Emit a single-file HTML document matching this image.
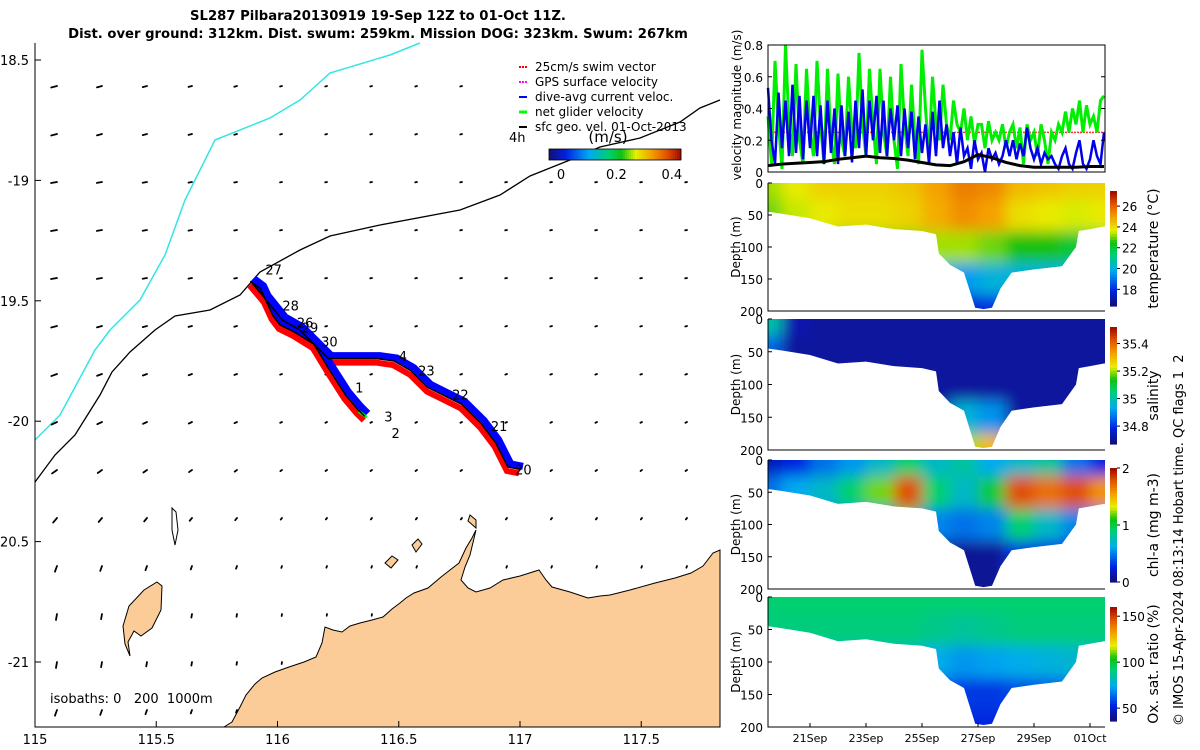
<!DOCTYPE html>
<html><head><meta charset="utf-8">
<style>
html,body{margin:0;padding:0;background:#fff;}
svg{display:block;font-family:"DejaVu Sans","Liberation Sans",sans-serif;}
</style></head>
<body>
<svg id="fig" width="1200" height="750" viewBox="0 0 1200 750">
<defs>
<filter id="blur" x="-20%" y="-20%" width="140%" height="140%"><feGaussianBlur stdDeviation="7"/></filter>
</defs>
<text x="378" y="20" text-anchor="middle" font-size="13.2" font-weight="bold">SL287 Pilbara20130919 19-Sep 12Z to 01-Oct 11Z.</text>
<text x="378" y="38" text-anchor="middle" font-size="13.2" font-weight="bold">Dist. over ground: 312km. Dist. swum: 259km. Mission DOG: 323km. Swum: 267km</text>
<g id="map"></g>
<g id="right"></g>
<text transform="translate(1183,726) rotate(-90)" font-size="13">© IMOS 15-Apr-2024 08:13:14 Hobart time. QC flags 1&#160;&#160;2</text>
</svg>
<script>
// ---------- DATA ----------
const velBlue=[0.53,0.2,0.05,0.5,0.15,0.45,0.1,0.55,0.12,0.48,0.08,0.45,0.15,0.48,0.1,0.42,0.05,0.45,0.12,0.4,0.05,0.42,0.1,0.38,0.06,0.45,0.15,0.52,
0.1,0.45,0.2,0.48,0.12,0.45,0.1,0.4,0.2,0.42,0.1,0.4,0.15,0.38,0.08,0.35,0.12,0.3,0.05,0.38,0.1,0.45,0.15,0.3,
0.1,0.25,0.05,0.28,0.1,0.15,0.02,0.2,0.08,0.12,0.0,0.15,0.08,0.12,0.05,0.1,
0.2,0.1,0.2,0.08,0.18,0.1,0.28,0.15,0.08,0.15,0.05,0.12,0.08,0.1,0.05,0.02,0.1,0.15,0.05,0.02,0.12,0.2,0.05,0.02,0.08,0.2,0.1,0.05,0.25];
const velGreen=[0.35,0.05,0.7,0.3,0.02,0.8,0.3,0.1,0.68,0.2,0.05,0.65,0.25,0.1,0.7,0.3,0.05,0.65,0.2,0.05,0.62,0.2,0.1,0.6,0.25,0.15,0.75,0.3,
0.1,0.65,0.3,0.05,0.65,0.25,0.1,0.6,0.2,0.02,0.68,0.3,0.1,0.55,0.2,0.05,0.77,0.4,0.1,0.6,0.3,0.2,0.55,0.3,
0.2,0.45,0.3,0.25,0.4,0.2,0.35,0.18,0.3,0.3,0.15,0.32,0.2,0.25,0.2,0.3,
0.15,0.25,0.3,0.15,0.28,0.05,0.3,0.2,0.25,0.1,0.3,0.2,0.05,0.25,0.2,0.3,0.25,0.38,0.25,0.4,0.3,0.45,0.25,0.42,0.3,0.35,0.25,0.45,0.48];
const velStartDay=19.5, velStep=0.125;
const velBlack=[0.04,0.05,0.055,0.06,0.065,0.08,0.09,0.1,0.09,0.085,0.075,0.06,0.045,0.04,0.065,0.11,0.09,0.06,0.04,0.03,0.03,0.03,0.03,0.035,0.035];
const blackStep=0.5;
const swimRef=0.25;
const velTicks=[0,0.2,0.4,0.6,0.8];
const dateTicks=[21,23,25,27,29,31];
const dateLabels=["21Sep","23Sep","25Sep","27Sep","29Sep","01Oct"];
const depthTicks=[0,50,100,150,200];
const botDays=[19.5,20,21,22,23,24,25,25.5,25.6,26,26.5,26.9,27.2,27.5,27.8,28.2,29,30,30.5,30.6,31,31.5];
const botDepth=[45,48,55,68,65,72,75,80,110,128,140,195,197,195,165,140,135,130,100,75,72,68];
const gridDays=[19.5,20.5,21.5,22.5,23.5,24.5,25.5,26.5,27.5,28.5,29.5,30.5,31.5];
const gridDepths=[0,50,100,150,200];
const tempGrid=[
[23.3,23.8,24.2,24.2,24.2,24.4,25,25.6,25.4,24.6,24.4,24.2,24.2],
[23,23.5,23.8,24,24,24.2,24.8,25.3,25,24,23.8,23.6,23.8],
[22,22,23,23,23,23,23.3,23.3,23,22.5,22.5,22,22],
[20,20,20,20,20,20,20,19.5,20,20,20,20,20],
[18,18,18,18,18,18,18,17.5,18,18,18,18,18]];
const salGrid=[
[35.0,34.72,34.7,34.7,34.7,34.7,34.7,34.7,34.7,34.7,34.7,34.7,34.7],
[34.85,34.7,34.7,34.7,34.7,34.7,34.7,34.7,34.7,34.7,34.7,34.7,34.7],
[34.7,34.7,34.7,34.7,34.7,34.7,34.7,34.7,34.7,34.7,34.7,34.7,34.7],
[34.7,34.7,34.7,34.7,34.7,34.7,34.7,34.95,34.9,34.7,34.7,34.7,34.7],
[34.7,34.7,34.7,34.7,34.7,34.7,34.7,35.2,35.3,34.7,34.7,34.7,34.7]];
const chlGrid=[
[0.15,0.25,0.45,0.55,0.7,0.9,0.7,0.8,0.6,0.7,0.8,0.45,0.25],
[0.45,0.6,0.7,0.9,1.2,1.8,0.9,0.7,1.0,1.8,1.7,1.8,1.6],
[0.5,0.5,0.5,0.5,0.5,0.9,0.5,0.45,0.5,0.9,0.7,0.5,0.5],
[0.2,0.2,0.2,0.2,0.2,0.15,0.05,0.05,0.05,0.3,0.3,0.3,0.3],
[0.05,0.05,0.05,0.05,0.05,0.05,0.05,0.05,0.05,0.05,0.05,0.05,0.05]];
const oxGrid=[
[92,92,92,92,92,92,92,92,92,92,92,92,92],
[90,90,90,90,90,90,88,86,88,90,90,90,90],
[82,82,82,82,82,80,74,70,72,74,76,78,80],
[62,62,62,62,62,62,58,55,55,58,60,62,62],
[52,52,52,52,52,52,52,52,52,52,52,52,52]];
const trackLon=[116.36,116.33,116.28,116.21,116.15,116.07,116.01,115.98,115.93,115.89,115.94,116.02,116.09,116.21,116.33,116.41,116.48,116.55,116.62,116.68,116.76,116.84,116.90,116.95,117.0];
const trackLat=[-19.98,-19.95,-19.89,-19.78,-19.68,-19.63,-19.60,-19.56,-19.45,-19.42,-19.48,-19.58,-19.62,-19.74,-19.74,-19.74,-19.75,-19.79,-19.86,-19.89,-19.93,-20.01,-20.09,-20.19,-20.20];
const dayLabels=["27","28","26","29","30","1","3","2","4","23","22","21","20"];
const dayLabLon=[115.95,116.02,116.08,116.10,116.18,116.32,116.44,116.47,116.50,116.58,116.72,116.88,116.98];
const dayLabLat=[-19.37,-19.52,-19.59,-19.61,-19.67,-19.86,-19.98,-20.05,-19.73,-19.79,-19.89,-20.02,-20.20];

// ---------- helpers ----------
const NS="http://www.w3.org/2000/svg";
function mk(parent,tag,attrs){const e=document.createElementNS(NS,tag);for(const k in attrs)e.setAttribute(k,attrs[k]);parent.appendChild(e);return e;}
const cmStops=[[0,[16,16,128]],[0.12,[0,32,224]],[0.3,[0,170,240]],[0.45,[0,208,112]],[0.55,[16,192,16]],[0.66,[232,240,0]],[0.78,[245,160,0]],[0.9,[224,80,0]],[1,[160,16,0]]];
function jet(t){t=Math.max(0,Math.min(1,t));
 for(let i=1;i<cmStops.length;i++){if(t<=cmStops[i][0]){const [a,ca]=cmStops[i-1],[b,cb]=cmStops[i];const f=(t-a)/(b-a);
  return `rgb(${Math.round(ca[0]+(cb[0]-ca[0])*f)},${Math.round(ca[1]+(cb[1]-ca[1])*f)},${Math.round(ca[2]+(cb[2]-ca[2])*f)})`;}}
 return 'rgb(160,16,0)';}
const map=document.getElementById('map'), right=document.getElementById('right');

// ---------- MAP ----------
const lonX=lon=>35+(lon-115)*242.5;
const latY=lat=>60+(-18.5-lat)*240.8;
const landPts=[[224,727],[232,722],[240,707],[246,695],[255,684],[262,678],[275,672],[289,667],[304,662],[316,657],[322,643],[325,627],[333,630],[342,632],[350,626],[360,623],[372,620],[383,617],[392,609],[400,603],[406,598],[414,593],[428,588],[441,577],[450,570],[459,563],[466,548],[472,538],[476,530],[470,555],[465,567],[461,580],[468,588],[476,592],[490,588],[503,580],[520,576],[539,570],[546,580],[552,587],[570,592],[588,598],[600,596],[610,595],[630,590],[655,583],[675,578],[691,573],[703,566],[713,553],[720,550],[720,727]];
const islandPts=[[157,582],[162,586],[161,610],[152,628],[141,636],[134,631],[128,642],[130,656],[125,644],[123,626],[129,606],[144,590]];
function inPoly(x,y,p){let c=false;for(let i=0,j=p.length-1;i<p.length;j=i++){const [xi,yi]=p[i],[xj,yj]=p[j];if(((yi>y)!=(yj>y))&&(x<(xj-xi)*(y-yi)/(yj-yi)+xi))c=!c;}return c;}
let e;
e=mk(map,'polygon',{points:landPts.map(p=>p.join(',')).join(' '),fill:'#fbcb98',stroke:'#000','stroke-width':1});


e=mk(map,'polygon',{points:islandPts.map(p=>p.join(',')).join(' '),fill:'#fbcb98',stroke:'#000','stroke-width':1});


e=mk(map,'polygon',{points:'470,515 476,520 476,528 468,521',fill:'#fbcb98',stroke:'#000','stroke-width':1});


e=mk(map,'polygon',{points:'412,545 418,539 422,544 416,552',fill:'#fbcb98',stroke:'#000','stroke-width':1});


e=mk(map,'polygon',{points:'385,563 392,556 398,560 391,568',fill:'#fbcb98',stroke:'#000','stroke-width':1});


e=mk(map,'polygon',{points:'172,508 176,512 178,530 175,545 172,530',fill:'none',stroke:'#000','stroke-width':1});


e=mk(map,'polyline',{points:'35,440 60,415 95,350 110,330 140,300 165,255 185,200 215,140 270,118 300,100 330,73 390,55 420,43',fill:'none',stroke:'#33e5e5','stroke-width':1.5});


e=mk(map,'polyline',{points:'35,482 55,455 75,435 100,395 112,372 130,352 155,330 175,316 210,310 240,295 260,272 300,250 330,236 380,225 460,210 500,195 530,176 570,160 600,147 640,138 680,122 700,108 720,100',fill:'none',stroke:'#000','stroke-width':1.3});


const rowAng=[195,195,190,190,190,195,200,205,215,230,250,260,260,250];
for(let r=0;r<14;r++){for(let c=0;c<15;c++){
 const x=57+45*c,y=86+48*r;
 if(inPoly(x,y,landPts)||inPoly(x,y,islandPts))continue;
 if(x>500&&y<135&&x<690)continue;
 const mag=Math.max(1.8,6-c*0.8);
 const a=rowAng[r]*Math.PI/180;
 const dx=Math.cos(a)*mag,dy=-Math.sin(a)*mag;
 const q=mk(map,'line',{x1:x,y1:y,x2:x+dx,y2:y+dy,stroke:'#000','stroke-width':1.8,'stroke-linecap':'round'});
 
 
}}
const tp=trackLon.map((l,i)=>[lonX(l),latY(trackLat[i])]);
e=mk(map,'polyline',{points:tp.map(p=>(p[0]-1)+','+(p[1]+4)).join(' '),fill:'none',stroke:'#ff0000','stroke-width':6,'stroke-linejoin':'miter'});


e=mk(map,'polyline',{points:tp.map(p=>(p[0]+3)+','+(p[1]-3)).join(' '),fill:'none',stroke:'#0000ff','stroke-width':7,'stroke-linejoin':'miter'});


e=mk(map,'line',{x1:tp[0][0]-6,y1:tp[0][1]-5,x2:tp[0][0]+2,y2:tp[0][1]+1,stroke:'#00ff00','stroke-width':3});


e=mk(map,'polyline',{points:tp.map(p=>p.join(',')).join(' '),fill:'none',stroke:'#000','stroke-width':1.5,'stroke-linejoin':'round'});


dayLabels.forEach((d,i)=>{const t=mk(map,'text',{x:lonX(dayLabLon[i]),y:latY(dayLabLat[i])+5,'font-size':13});t.textContent=d;
 
 });
e=mk(map,'path',{d:'M35,43 V727 H720',fill:'none',stroke:'#000','stroke-width':1});


const lonTicks=[115,115.5,116,116.5,117,117.5];
lonTicks.forEach(l=>{const x=lonX(l);mk(map,'line',{x1:x,y1:727,x2:x,y2:721,stroke:'#000'});
 const t=mk(map,'text',{x:x,y:744,'font-size':13,'text-anchor':'middle'});t.textContent=String(l);
 
 });
const latTicks=[-18.5,-19,-19.5,-20,-20.5,-21];
const latLabels=["18.5","-19","19.5","-20","20.5","-21"];
latTicks.forEach((l,i)=>{const y=latY(l);mk(map,'line',{x1:35,y1:y,x2:41,y2:y,stroke:'#000'});
 const t=mk(map,'text',{x:29,y:y+5,'font-size':13,'text-anchor':'end'});t.textContent=latLabels[i];
 
 });
e=mk(map,'text',{x:50,y:703,'font-size':13});e.textContent='isobaths: 0\u00a0\u00a0\u00a0200\u00a0\u00a01000m';


const legTxt=["25cm/s swim vector","GPS surface velocity","dive-avg current veloc.","net glider velocity","sfc geo. vel. 01-Oct-2013"];
const legCol=["#ff0000","#ff00ff","#0000ff","#00ff00","#000"];
legTxt.forEach((s,i)=>{const y=63+15*i;
 const l=mk(map,'line',{x1:519,y1:y+4,x2:527,y2:y+4,stroke:legCol[i],'stroke-width':i==3?3:2,'stroke-dasharray':i<2?'2,1':''});
 
 
 const t=mk(map,'text',{x:535,y:y+8,'font-size':12});t.textContent=s;
 
 });
e=mk(map,'text',{x:509,y:142,'font-size':13});e.textContent='4h';


e=mk(map,'text',{x:608,y:142,'font-size':15,'text-anchor':'middle'});e.textContent='(m/s)';


for(let i=0;i<66;i++){const r=mk(map,'rect',{x:549+i*2,y:149,width:2.3,height:11,fill:jet(i/65)});
 
 }
mk(map,'rect',{x:549,y:149,width:132,height:11,fill:'none',stroke:'#000','stroke-width':0.8});
const mcbTicks=[0,0.2,0.4],mcbX=v=>561+v*277;
mcbTicks.forEach(v=>{const t=mk(map,'text',{x:mcbX(v),y:179,'font-size':13,'text-anchor':'middle'});t.textContent=String(v);
 
 });

// ---------- RIGHT PANELS ----------
const X0=768,X1=1105;
const dayX=d=>X0+(d-19.5)*28;
const P1={t:45,b:172};
const vy=v=>P1.b-(v/0.8)*(P1.b-P1.t);
e=mk(right,'line',{x1:X0,y1:vy(swimRef),x2:X1,y2:vy(swimRef),stroke:'#ff3030','stroke-width':1.5,'stroke-dasharray':'2,1'});


e=mk(right,'polyline',{points:velGreen.map((v,i)=>dayX(velStartDay+i*velStep)+','+vy(v)).join(' '),fill:'none',stroke:'#00ee00','stroke-width':3});


e=mk(right,'polyline',{points:velBlue.map((v,i)=>dayX(velStartDay+i*velStep)+','+vy(v)).join(' '),fill:'none',stroke:'#0000ee','stroke-width':2.5});


e=mk(right,'polyline',{points:velBlack.map((v,i)=>dayX(velStartDay+i*blackStep)+','+vy(v)).join(' '),fill:'none',stroke:'#000','stroke-width':3});


e=mk(right,'rect',{x:X0,y:P1.t,width:X1-X0,height:P1.b-P1.t,fill:'none',stroke:'#000','stroke-width':1});


velTicks.forEach(v=>{const y=vy(v);mk(right,'line',{x1:X0,y1:y,x2:X0+4,y2:y,stroke:'#000'});mk(right,'line',{x1:X1,y1:y,x2:X1-4,y2:y,stroke:'#000'});
 const t=mk(right,'text',{x:763,y:y+5,'font-size':12,'text-anchor':'end'});t.textContent=String(v);
 
 });
e=mk(right,'text',{transform:'translate(741,105) rotate(-90)','font-size':12,'text-anchor':'middle'});e.textContent='velocity magnitude (m/s)';



const panels=[
 {name:'temperature',t:183,b:311,grid:tempGrid,vmin:16.4,vmax:27.45,cb:[191,306],ticks:[18,20,22,24,26],label:'temperature (°C)'},
 {name:'salinity',t:319,b:450,grid:salGrid,vmin:34.67,vmax:35.52,cb:[327,444],ticks:[34.8,35,35.2,35.4],label:'salinity'},
 {name:'chl-a',t:460,b:589,grid:chlGrid,vmin:0,vmax:2,cb:[468,582],ticks:[0,1,2],label:'chl-a (mg m-3)'},
 {name:'oxygen',t:597,b:727,grid:oxGrid,vmin:36,vmax:160,cb:[607,721],ticks:[50,100,150],label:'Ox. sat. ratio (%)'}];
panels.forEach((P,pi)=>{
 const dy=d=>P.t+d/200*(P.b-P.t);
 const cid='clip'+pi;
 const cp=mk(document.querySelector('defs'),'clipPath',{id:cid});
 let pts=`${X0},${P.t} `+botDays.map((d,i)=>dayX(d)+','+dy(botDepth[i])).join(' ')+` ${X1},${dy(botDepth[botDepth.length-1])} ${X1},${P.t}`;
 mk(cp,'polygon',{points:pts});
 const g=mk(right,'g',{'clip-path':`url(#${cid})`});
 
 
 const gb=mk(g,'g',{filter:'url(#blur)'});
 const cw=28, ch=(P.b-P.t)/4;
 P.grid.forEach((row,ri)=>row.forEach((v,ci)=>{
  const x=dayX(gridDays[ci])-cw/2-(ci==0?30:0), y=dy(gridDepths[ri])-ch/2-(ri==0?30:0);
  const w=cw+(ci==0||ci==row.length-1?30:0)+1, h=ch+(ri==0||ri==4?30:0)+1;
  const r=mk(gb,'rect',{x:x,y:y,width:w,height:h,fill:jet((v-P.vmin)/(P.vmax-P.vmin))});
  
  
 }));
 e=mk(right,'path',{d:`M${X0},${P.t} V${P.b} H${X1}`,fill:'none',stroke:'#000','stroke-width':1});
 
 
 depthTicks.forEach(d=>{const y=dy(d);mk(right,'line',{x1:X0,y1:y,x2:X0+4,y2:y,stroke:'#000'});
  const t=mk(right,'text',{x:763,y:y+5,'font-size':12,'text-anchor':'end'});t.textContent=String(d);
  
  });
 e=mk(right,'text',{transform:`translate(740,${(P.t+P.b)/2}) rotate(-90)`,'font-size':12,'text-anchor':'middle'});e.textContent='Depth (m)';
 
 
 const [c0,c1]=P.cb, n=40;
 for(let i=0;i<n;i++){const r=mk(right,'rect',{x:1110,y:c0+(c1-c0)*i/n,width:7,height:(c1-c0)/n+0.6,fill:jet(1-i/(n-1))});
  
  }
 const cy=v=>c1-(v-P.vmin)/(P.vmax-P.vmin)*(c1-c0);
 P.ticks.forEach(v=>{const y=cy(v);mk(right,'line',{x1:1117,y1:y,x2:1120,y2:y,stroke:'#000'});
  const t=mk(right,'text',{x:1122,y:y+5,'font-size':12});t.textContent=String(v);
  
  });
 e=mk(right,'text',{transform:`translate(1158,${(c0+c1)/2+(pi==1?10:0)}) rotate(-90)`,'font-size':14,'text-anchor':'middle'});e.textContent=P.label;
 
 
});
dateTicks.forEach((d,i)=>{const x=dayX(d);mk(right,'line',{x1:x,y1:727,x2:x,y2:723,stroke:'#000'});
 const t=mk(right,'text',{x:x,y:742,'font-size':11,'text-anchor':'middle'});t.textContent=dateLabels[i];
 
 });
</script>
</body></html>
